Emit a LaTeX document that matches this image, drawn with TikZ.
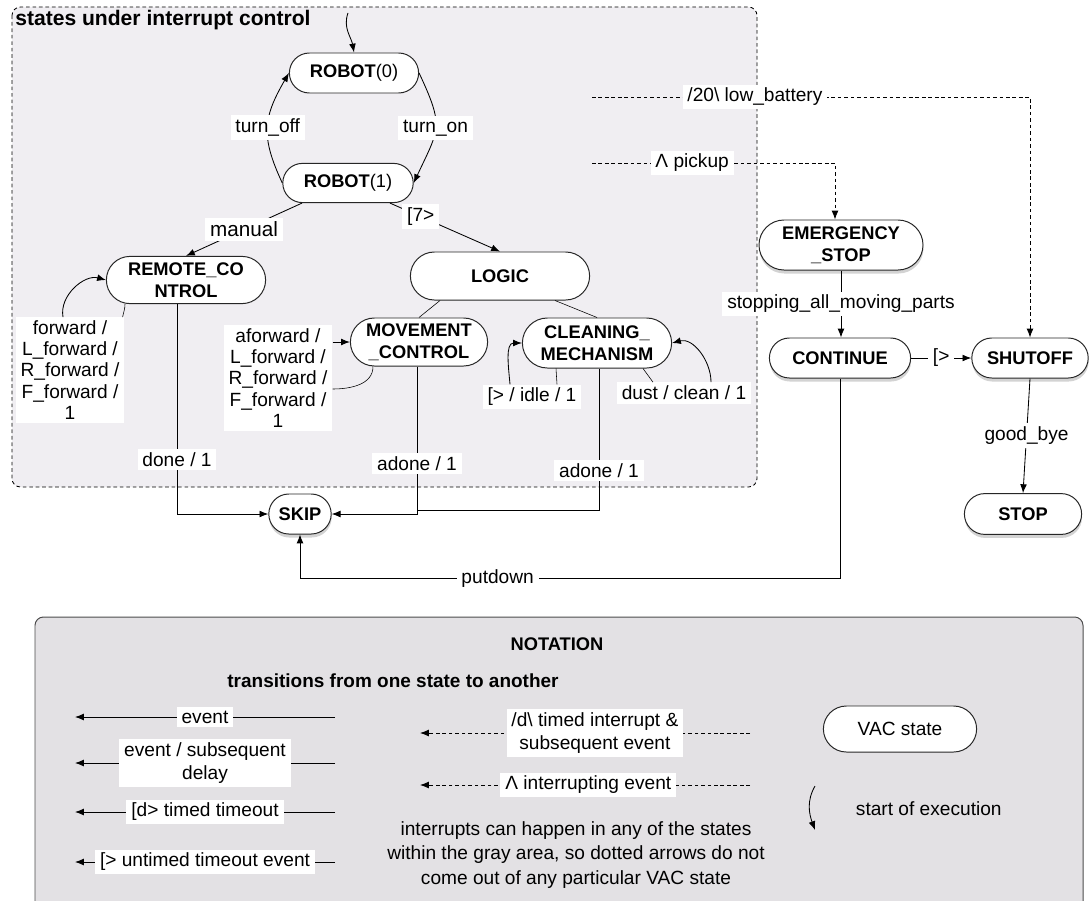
\documentclass[tikz,border=0pt]{standalone}
\usepackage{fontspec}
\setmainfont{Liberation Sans}
\usepackage{tikz}
\usetikzlibrary{arrows.meta,calc,positioning,shapes.misc,shadows}

\definecolor{grauzone}{HTML}{F0EEF2}
\definecolor{notationgrau}{HTML}{E3E1E4}

\tikzset{
  zustand/.style={draw=black!85, line width=0.7pt, rounded rectangle, fill=white, align=center,
    font=\fontsize{13}{15.5}\selectfont\bfseries, inner sep=1pt},
  zustandaussen/.style={zustand, drop shadow={shadow xshift=0.3pt, shadow yshift=-2.5pt, opacity=0.35}},
  beschr/.style={fill=white, inner xsep=3.5pt, inner ysep=2.5pt, align=center, font=\fontsize{13.6}{15}\selectfont},
  pfeil/.style={-{Latex[length=2.2mm,width=1.7mm]}, line width=0.6pt},
  strich/.style={dash pattern=on 2.6pt off 2pt},
}

\begin{document}
\begin{tikzpicture}[x=0.025cm,y=0.025cm]
\useasboundingbox (0,0) rectangle (1090,-900);
%grauer Bereich mit Interrupts
\draw[strich, line width=0.6pt, fill=grauzone, rounded corners=6pt] (12,-7) rectangle (757,-487);
\node[anchor=west, inner sep=0pt, font=\fontsize{15}{18}\selectfont\bfseries] (titel) at (15,-20) {states under interrupt control};

%Zustaende innen
\node[zustand, minimum width=3.3cm, minimum height=1cm] (r0) at (354,-73) {ROBOT{\mdseries(0)}};
\node[zustand, minimum width=3.33cm, minimum height=0.98cm] (r1) at (348,-183) {ROBOT{\mdseries(1)}};
\node[zustand, minimum width=4.55cm, minimum height=1.2cm] (logic) at (500,-276) {LOGIC};
\node[zustand, minimum width=4.05cm, minimum height=1.18cm] (rc) at (186,-280) {REMOTE\_CO\\NTROL};
\node[zustand, minimum width=3.5cm, minimum height=1.2cm] (mc) at (419,-342) {MOVEMENT\\\_CONTROL};
\node[zustand, minimum width=3.8cm, minimum height=1.25cm] (cm) at (597,-343) {CLEANING\_\\MECHANISM};
%Zustaende aussen, mit Schatten
\node[zustandaussen, minimum width=4.17cm, minimum height=1.25cm] (em) at (841,-245) {EMERGENCY\\\_STOP};
\node[zustandaussen, minimum width=3.6cm, minimum height=1cm] (cont) at (840,-358) {CONTINUE};
\node[zustandaussen, minimum width=2.98cm, minimum height=1cm] (shut) at (1030,-358) {SHUTOFF};
\node[zustandaussen, minimum width=3cm, minimum height=1.02cm] (stop) at (1023,-514) {STOP};
\node[zustandaussen, minimum width=1.63cm, minimum height=1cm] (skip) at (300,-514) {SKIP};

%Start
\coordinate (start) at (348,-13);
\draw[pfeil] (start) to[out=-110,in=100] (r0.north);

%Uebergaenge
\draw[pfeil] (r1.west) to[out=115,in=-120,looseness=1.2] node[beschr]{turn\_off} (r0.west);
\draw[pfeil] (r0.east) to[out=-65,in=65,looseness=1.4] node[beschr]{turn\_on} (r1.east);
\draw[pfeil] ($(r1.south)+(42,0)$) -- node[beschr,pos=0.28]{[7>} (logic.north);
\draw[pfeil] ($(r1.south)+(-46,0)$) -- node[beschr, font=\fontsize{14.7}{17}\selectfont]{manual} (rc.north);
\draw ($(logic.south)+(-60,0)$) -- (mc.north);
\draw ($(logic.south)+(55,0)$) -- (cm.north);

\node[beschr] (lrc) at (70,-370) {forward /\\L\_forward /\\R\_forward /\\F\_forward /\\1};
\draw ($(rc.south)+(-61,0)$) to[out=-90,in=80] ($(lrc.north east)+(-2,0)$);
\draw[pfeil] ($(lrc.north)+(-7,0)$) to[out=100,in=165] (rc.west);

\node[beschr] (lmc) at (278,-378) {aforward /\\L\_forward /\\R\_forward /\\F\_forward /\\1};
\draw[pfeil] (lmc.east |- mc.west) -- (mc.west);
\draw ($(mc.south)+(-46,0)$) to[out=-90,in=0] ($(lmc.east)+(0,-11)$);

\node[beschr] (lidle) at (532,-397) {[> / idle / 1};
\draw ($(cm.south)+(-41,0)$) -- ($(lidle.north)+(25,0)$);
\draw[pfeil] ($(lidle.north)+(-22,0)$) to[out=95,in=180] (cm.west);

\node[beschr] (ldust) at (684,-393) {dust / clean / 1};
\draw ($(cm.south)+(46,0)$) -- ($(ldust.north)+(-31,0)$);
\draw[pfeil] ($(ldust.north)+(27,0)$) to[out=90,in=15] (cm.east);

\draw[pfeil] ($(rc.south)+(-9,0)$) |- node[beschr,pos=0.37]{done / 1} (skip.west);
\coordinate (knick) at (417,-510);
\draw[pfeil] ($(mc.south)+(-2,0)$) |- node[beschr,pos=0.33]{adone / 1} (skip.east);
\draw ($(cm.south)+(2,0)$) |- node[beschr,pos=0.36]{adone / 1} (knick);

%Interrupts
\coordinate (lowbat) at (592,-97);
\coordinate (pickup) at (592,-163);
\draw[pfeil,strich] (lowbat) -| node[beschr,pos=0.186]{/20\textbackslash{} low\_battery} (shut.north);
\draw[pfeil,strich] (pickup) -| node[beschr,pos=0.206]{Λ pickup} ($(em.north)+(-6,0)$);

\draw[pfeil] (em.south) -- node[beschr]{stopping\_all\_moving\_parts} (em.south |- cont.north);
\draw[pfeil] (cont.east) -- node[beschr]{[>} (shut.west);
\draw[pfeil] (shut.south) -- node[beschr]{good\_bye} (stop.north);
\draw[pfeil] (cont.south) -- ++(0,-200) -| node[beschr,pos=0.317]{putdown} (skip.south);

%Notation
\draw[draw=black!70, line width=0.7pt, fill=notationgrau, rounded corners=6pt] (35,-617) rectangle (1083,-915);
\node[font=\fontsize{13}{15}\selectfont\bfseries] (notation) at (557,-644) {NOTATION};
\node[font=\fontsize{13.5}{16}\selectfont\bfseries] (uebergang) at (393,-681) {transitions from one state to another};
\foreach \yy/\txt [count=\i] in {717/event, 763/{event / subsequent\\delay}, 812/{[d> timed timeout}, 862/{[> untimed timeout event}}{
  \coordinate (la\i) at (335,-\yy);
  \coordinate (le\i) at (75,-\yy);
  \draw[pfeil] (la\i) -- node[beschr, font=\fontsize{13.6}{17}\selectfont]{\txt} (le\i);
}
\coordinate (ia1) at (750,-733);
\coordinate (ie1) at (420,-733);
\coordinate (ia2) at (750,-785);
\coordinate (ie2) at (420,-785);
\draw[pfeil,strich] (ia1) -- node[beschr, pos=0.47, font=\fontsize{13.6}{17}\selectfont]{/d\textbackslash{} timed interrupt \&\\subsequent event} (ie1);
\draw[pfeil,strich] (ia2) -- node[beschr, pos=0.49]{Λ interrupting event} (ie2);
\node[align=center, font=\fontsize{13.6}{17.4}\selectfont] (hinweis) at (576,-855) {interrupts can happen in any of the states\\within the gray area, so dotted arrows do not\\come out of any particular VAC state};

\node[zustand, font=\fontsize{13.6}{16}\selectfont, minimum width=3.9cm, minimum height=1.15cm] (vac) at (900,-729) {VAC state};
\coordinate (sa) at (815,-786);
\coordinate (se) at (815,-830);
\draw[pfeil] (sa) to[out=-120,in=110] (se);
\node[anchor=west, font=\fontsize{13.6}{16}\selectfont] (startlbl) at (851,-809) {start of execution};
\end{tikzpicture}
\end{document}
